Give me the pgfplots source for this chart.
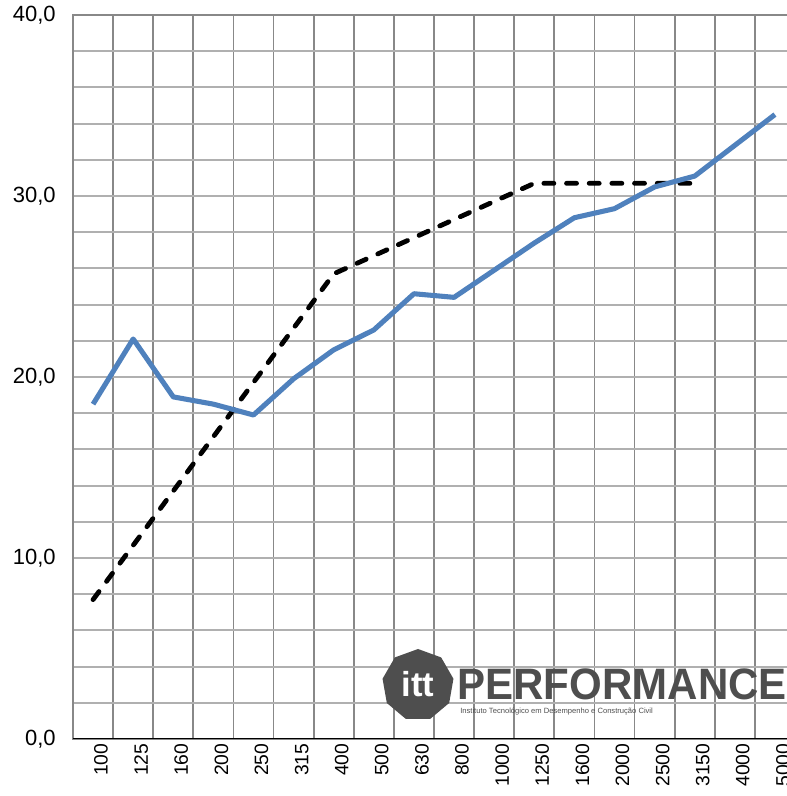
\documentclass[border=0pt]{standalone}
\usepackage{pgfplots}
\pgfplotsset{compat=1.18}
\usepackage{fontspec}
\setmainfont{Liberation Sans}
\usetikzlibrary{shapes.geometric}
\definecolor{blueline}{RGB}{79,129,189}
\definecolor{vgrid}{RGB}{136,136,136}
\definecolor{hgrid}{RGB}{176,176,176}
\definecolor{logogray}{RGB}{78,78,78}
\begin{document}
\begin{tikzpicture}
\begin{axis}[
  at={(54.75pt,42.75pt)}, anchor=south west,
  scale only axis, width=541.5pt, height=543pt,
  xmin=-0.5, xmax=17.5, ymin=0, ymax=40,
  xtick={0,...,17},
  xticklabels={100,125,160,200,250,315,400,500,630,800,1000,1250,1600,2000,2500,3150,4000,5000},
  minor xtick={-0.5,0.5,...,17.5},
  ytick={0,10,20,30,40},
  minor ytick={0,2,...,40},
  xminorgrids=true, yminorgrids=true, ymajorgrids=true,
  minor x grid style={draw=vgrid, line width=1.4pt},
  minor y grid style={draw=hgrid, line width=1.4pt},
  major y grid style={draw=hgrid, line width=1.4pt},
  major tick length=0pt, minor tick length=0pt,
  axis line style={draw=vgrid, line width=1.4pt},
  xticklabel style={font=\fontsize{14.5}{17}\selectfont, rotate=90, anchor=east, yshift=-6pt},
  yticklabel style={font=\fontsize{16.5}{19}\selectfont, xshift=-9.5pt},
  /pgf/number format/.cd, use comma, fixed, fixed zerofill, precision=1, assume math mode=true,
]
% Reference (dashed) curve
\addplot[black, line width=3.6pt, line cap=round, dash pattern=on 7.5pt off 9.5pt] coordinates {
(0,7.7) (1,10.7) (2,13.7) (3,16.7) (4,19.7) (5,22.7) (6,25.7) (7,26.7) (8,27.7) (9,28.7) (10,29.7) (11,30.7) (12,30.7) (13,30.7) (14,30.7) (15,30.7)
};
% Measured curve
\addplot[blueline, line width=3.8pt, line join=round] coordinates {
(0,18.5) (1,22.1) (2,18.9) (3,18.5) (4,17.9) (5,19.9) (6,21.5) (7,22.6) (8,24.6) (9,24.4) (10,25.9) (11,27.4) (12,28.8) (13,29.3) (14,30.5) (15,31.1) (16,32.8) (17,34.5)
};
\draw[black, line width=2.2pt] (rel axis cs:0,0) -- (rel axis cs:1,0);
\end{axis}
% watermark logo
\node[regular polygon, regular polygon sides=9, minimum size=54pt, fill=logogray, inner sep=0pt] at (313.5pt,83.25pt) {};
\node[text=white, font=\fontsize{26}{26}\selectfont\bfseries] at (313.5pt,84pt) {itt};
\node[anchor=west, text=logogray, font=\fontsize{33}{33}\selectfont\bfseries, xscale=0.955, inner sep=0pt] at (343pt,83.5pt) {PERFORMANCE};
\node[anchor=west, text=logogray, font=\fontsize{5.7}{6}\selectfont, inner sep=0pt] at (345pt,63pt) {Instituto Tecnológico em Desempenho e Construção Civil};
\pgfresetboundingbox
\useasboundingbox (0,0) rectangle (590.25pt,597pt);
\end{tikzpicture}
\end{document}
